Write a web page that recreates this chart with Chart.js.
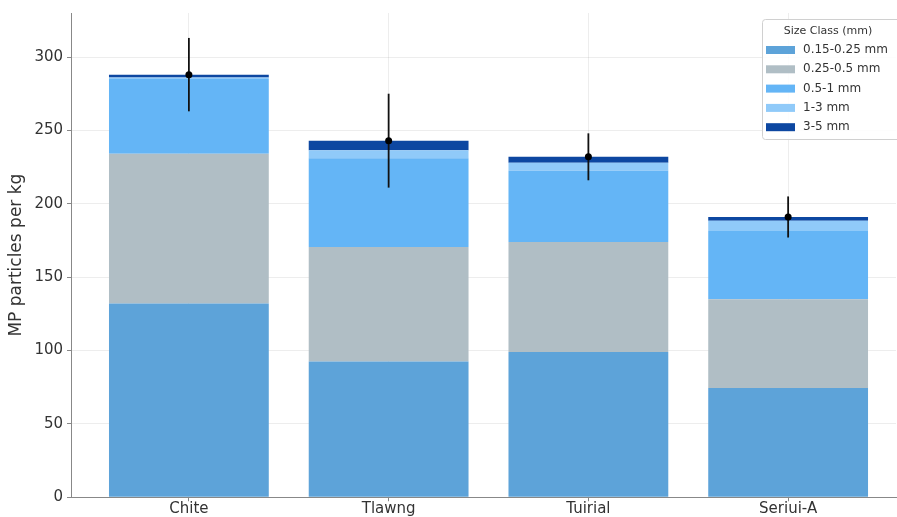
<!DOCTYPE html>
<html>
<head>
<meta charset="utf-8">
<script src="https://cdn.jsdelivr.net/npm/chart.js@4.4.1/dist/chart.umd.min.js"></script>
<style>
  html, body { margin: 0; padding: 0; background: #ffffff; }
  #wrap { width: 897px; height: 517px; position: relative; }
</style>
</head>
<body>
<div id="wrap"><canvas id="c" width="897" height="517"></canvas></div>
<script>
// Sites and microplastic size classes
const categories = ['Chite', 'Tlawng', 'Tuirial', 'Seriui-A'];
const sizeClasses = ['0.15-0.25 mm', '0.25-0.5 mm', '0.5-1 mm', '1-3 mm', '3-5 mm'];

// MP particles per kg in each size class, per site
const fine    = [132, 92.5, 99, 74.5];   // 0.15-0.25 mm
const small   = [102, 78, 75, 60.5];     // 0.25-0.5 mm
const medium  = [51, 60.5, 48.5, 46.5];  // 0.5-1 mm
const large   = [1, 5.5, 5.5, 7];        // 1-3 mm
const coarse  = [2, 6.5, 4, 2.5];        // 3-5 mm

// Standard deviation of the total count per site
const totalSd = [25, 32, 16, 14];

const yTicks = [0, 50, 100, 150, 200, 250, 300];

const classColors = ['#5da3d9', '#b0bec5', '#64b5f6', '#90caf9', '#0d47a1'];
const seriesValues = [fine, small, medium, large, coarse];

const totals = categories.map((_, i) => seriesValues.reduce((s, arr) => s + arr[i], 0));

const FONT = '"DejaVu Sans", "Liberation Sans", sans-serif';

const datasets = sizeClasses.map((name, k) => ({
  label: name,
  stack: 'site',
  data: categories.map((_, i) => ({ x: i, y: seriesValues[k][i] })),
  backgroundColor: classColors[k],
  borderWidth: 0,
  barPercentage: 0.8,
  categoryPercentage: 1.0
}));

// Error bars (mean ± sd) drawn over the stacks
const errorBars = {
  id: 'errorBars',
  afterDatasetsDraw(chart) {
    const { ctx, scales: { x, y } } = chart;
    ctx.save();
    ctx.strokeStyle = '#111111';
    ctx.fillStyle = '#000000';
    ctx.lineWidth = 1.8;
    totals.forEach((t, i) => {
      const px = x.getPixelForValue(i);
      ctx.beginPath();
      ctx.moveTo(px, y.getPixelForValue(t - totalSd[i]));
      ctx.lineTo(px, y.getPixelForValue(t + totalSd[i]));
      ctx.stroke();
      ctx.beginPath();
      ctx.arc(px, y.getPixelForValue(t), 3.5, 0, Math.PI * 2);
      ctx.fill();
    });
    ctx.restore();
  }
};

// Legend box in the upper right of the plot
const legendBox = {
  id: 'legendBox',
  afterDraw(chart) {
    const { ctx, chartArea } = chart;
    const left = chartArea.right - 134;
    const top = chartArea.top + 6;
    const w = 145, h = 120;
    ctx.save();
    ctx.fillStyle = 'rgba(255,255,255,0.85)';
    ctx.strokeStyle = '#d0d0d0';
    ctx.lineWidth = 1;
    ctx.beginPath();
    ctx.roundRect(left + 0.5, top + 0.5, w, h, 3);
    ctx.fill();
    ctx.stroke();
    ctx.fillStyle = '#333333';
    ctx.textBaseline = 'middle';
    ctx.textAlign = 'center';
    ctx.font = '11px ' + FONT;
    ctx.fillText('Size Class (mm)', left + 66, top + 12);
    ctx.textAlign = 'left';
    ctx.font = '12px ' + FONT;
    chart.data.datasets.forEach((ds, k) => {
      const cy = top + 31 + k * 19.3;
      ctx.fillStyle = ds.backgroundColor;
      ctx.fillRect(left + 4, cy - 4, 29, 8);
      ctx.fillStyle = '#333333';
      ctx.fillText(ds.label, left + 41, cy);
    });
    ctx.restore();
  }
};

new Chart(document.getElementById('c'), {
  type: 'bar',
  data: { datasets },
  options: {
    responsive: false,
    animation: false,
    devicePixelRatio: 1,
    layout: { padding: { top: 12, right: 1, left: 6, bottom: 0 } },
    plugins: {
      legend: { display: false },
      tooltip: { enabled: false }
    },
    scales: {
      x: {
        type: 'linear',
        min: -0.59,
        max: 3.54,
        offset: false,
        afterBuildTicks(scale) {
          scale.ticks = categories.map((_, i) => ({ value: i }));
        },
        ticks: {
          callback: (v) => categories[v] ?? '',
          color: '#333333',
          font: { family: FONT, size: 15, lineHeight: 1.05 },
          padding: 0,
          autoSkip: false,
          maxRotation: 0
        },
        grid: {
          offset: false,
          color: 'rgba(0,0,0,0.07)',
          tickColor: '#888888',
          tickLength: 4,
          drawTicks: true
        },
        border: { color: '#888888', width: 1 }
      },
      y: {
        min: 0,
        max: 330,
        afterBuildTicks(scale) {
          scale.ticks = yTicks.map(v => ({ value: v }));
        },
        ticks: {
          color: '#333333',
          font: { family: FONT, size: 15 },
          padding: 4
        },
        grid: {
          color: 'rgba(0,0,0,0.07)',
          tickColor: '#888888',
          tickLength: 4
        },
        border: { color: '#888888', width: 1 },
        title: {
          display: true,
          text: 'MP particles per kg',
          color: '#333333',
          font: { family: FONT, size: 17 },
          padding: { top: 0, bottom: 4 }
        }
      }
    }
  },
  plugins: [errorBars, legendBox]
});
</script>
</body>
</html>
